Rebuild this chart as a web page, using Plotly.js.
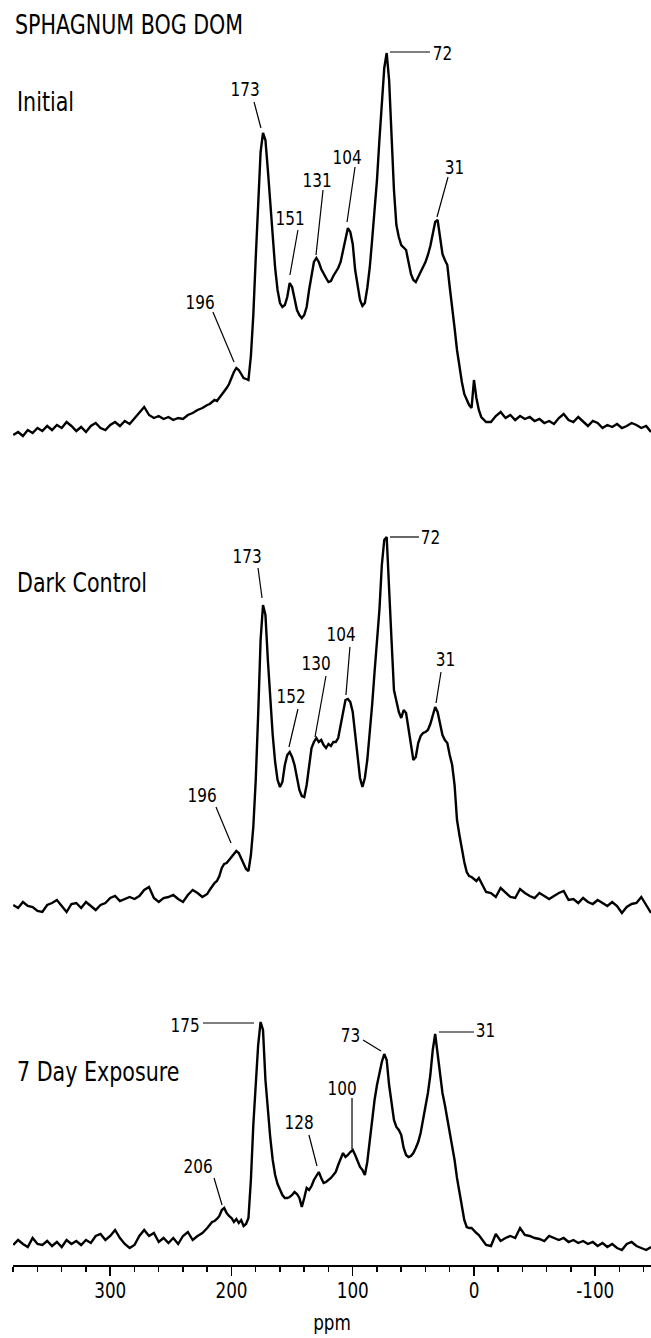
<!DOCTYPE html>
<html>
<head>
<meta charset="utf-8">
<script src="https://cdn.plot.ly/plotly-3.0.1.min.js"></script>
<style>
  html, body { margin: 0; padding: 0; background: #ffffff; }
  #chart { width: 651px; height: 1338px; }
</style>
</head>
<body>
<div id="chart"></div>
<script>
// ---------------- DATA ----------------
const chartTitle = 'SPHAGNUM BOG DOM';
const spectrumNames = ['Initial', 'Dark Control', '7 Day Exposure'];

// chemical shift grid (ppm)
const ppm = [
  380,376,372,368,364,360,356,352,348,344,340,336,332,328,324,320,316,312,308,304,
  300,296,292,288,284,280,276,272,268,264,260,256,252,248,244,240,236,232,228,224,220,
  218,216,214,212,210,208,206,204,202,200,198,196,194,192,190,188,186,184,182,180,
  178,176,174,172,170,168,166,164,162,160,158,156,154,152,150,148,146,144,142,140,
  138,136,134,132,130,128,126,124,122,120,118,116,114,112,110,108,106,104,102,100,
  98,96,94,92,90,88,86,84,82,80,78,76,74,72,70,68,66,64,62,60,
  58,56,54,52,50,48,46,44,42,40,38,36,34,32,30,28,26,24,22,20,
  18,16,14,12,10,8,6,4,2,0,-2,-4,-6,-8,-10,
  -14,-18,-22,-26,-30,-34,-38,-42,-46,-50,-54,-58,-62,-66,-70,-74,-78,-82,-86,-90,
  -94,-98,-102,-106,-110,-114,-118,-122,-126,-130,-134,-138,-142,-146
];

// relative intensity (arbitrary units)
const intInitial = [
  5,8,4,10,7,12,9,14,10,15,12,18,14,9,13,8,14,17,12,10,
  15,18,14,19,16,22,28,33,25,22,24,21,23,20,22,21,25,27,30,32,35,
  36,38,40,39,42,45,48,52,56,62,68,72,70,66,62,61,60,84,125,182,
  240,288,307,300,270,235,200,172,150,137,133,135,143,157,153,143,130,125,122,125,
  133,150,165,178,182,178,171,166,162,158,159,164,168,172,178,190,202,212,208,196,
  170,153,140,134,137,152,172,200,227,260,300,340,372,387,360,305,250,215,203,195,
  192,190,178,166,160,158,163,168,173,178,185,194,206,218,220,202,186,180,175,153,
  135,112,90,72,58,46,40,35,32,60,42,30,23,20,18,
  18,24,28,22,25,20,24,21,23,19,21,17,19,16,22,26,20,18,23,18,
  14,19,17,12,15,13,16,12,14,17,15,12,14,8
];

const intDark = [
  15,12,18,14,13,9,8,15,17,20,14,8,16,17,12,18,14,10,15,17,
  22,24,19,21,23,21,24,30,33,22,18,22,23,25,21,18,25,30,27,23,26,
  30,34,37,39,44,52,56,57,60,62,65,69,67,62,56,51,49,65,93,140,
  205,280,315,305,260,220,185,158,140,133,138,155,165,168,163,155,142,130,124,123,
  135,155,172,178,182,178,180,175,172,176,174,178,178,182,195,210,220,221,218,208,
  185,160,142,133,142,160,185,215,248,280,310,355,380,383,337,280,230,217,208,202,
  210,207,190,172,160,163,177,184,187,188,190,196,205,213,208,197,185,180,177,165,
  155,135,100,85,70,58,48,44,43,41,39,42,37,33,28,
  27,23,32,27,23,22,31,27,24,22,27,24,21,24,27,29,20,21,17,22,
  18,16,20,17,14,18,14,7,13,16,17,23,15,7
];

const intExposed = [
  10,15,11,8,17,11,10,14,9,13,8,15,11,14,10,15,12,19,21,15,
  19,25,17,11,7,10,19,25,19,22,13,17,12,17,11,19,23,15,19,22,27,
  30,33,34,36,39,45,47,42,39,37,33,36,32,35,29,31,37,75,130,170,
  210,233,225,175,145,117,95,80,71,65,60,57,57,58,60,63,61,57,48,57,
  67,65,69,75,79,83,77,72,73,75,77,80,83,90,97,102,98,100,103,105,
  100,93,88,85,80,93,115,137,155,170,183,193,201,195,170,150,135,128,125,120,
  107,100,98,99,102,107,113,122,135,147,162,180,205,221,203,180,162,150,137,123,
  112,95,77,62,47,35,28,27,27,24,22,20,17,13,10,
  9,21,14,17,19,17,27,20,19,17,16,14,19,17,15,17,13,15,12,14,
  11,13,9,12,8,11,7,5,11,13,9,7,5,8
];

// x-axis ticks
const tickValues = [300, 200, 100, 0, -100];
const tickLabels = ['300', '200', '100', '0', '-100'];
const axisLabel = 'ppm';

// peak labels (ppm values written on the chart)
const peaksInitial = ['173', '151', '131', '104', '72', '31', '196'];
const peaksDark    = ['173', '72', '104', '130', '152', '31', '196'];
const peaksExposed = ['175', '31', '73', '100', '128', '206'];

// ---------------- LAYOUT HELPERS (positions / styles) ----------------
const FONT = '"Liberation Sans Narrow", "DejaVu Sans Condensed", "Roboto Condensed", "Arial Narrow", Arial, sans-serif';
const TEXT_SQUEEZE = 0.85;   // horizontal compression to imitate the condensed face

// [text ppm, text intensity, line x0, y0, x1, y1]  (data units of each panel)
const placeInitial = [
  [188.9, 351, 181.4, 338, 175.7, 312],
  [151.8, 222, 145.2, 210, 151.8, 165],
  [129.5, 260, 124.5, 250, 130.3, 185],
  [104.7, 283,  98.1, 273, 104.7, 218],
  [ 25.6, 387,  69.3, 388,  36.3, 388],
  [ 15.7, 273,  21.4, 263,  30.5, 223],
  [226.0, 138, 215.3, 128, 197.9,  78]
];
const placeDark = [
  [187.2, 364, 178.1, 352, 174.8, 322],
  [ 35.5, 383,  69.3, 383,  45.4, 383],
  [109.7, 286, 102.3, 273, 105.6, 225],
  [130.3, 257, 122.1, 244, 131.1, 183],
  [150.9, 224, 145.2, 211, 152.6, 173],
  [ 23.1, 261,  27.2, 248,  31.3, 217],
  [224.3, 125, 212.8, 113, 200.4,  77]
];
const placeExposed = [
  [238.4, 230, 223.5, 232, 181.4, 232],
  [ -9.9, 225,  28.9, 223,   0.0, 223],
  [101.8, 220,  91.5, 215,  76.7, 204],
  [108.9, 167, 100.6, 157, 100.6, 106],
  [144.3, 133, 136.1, 120, 129.5,  89],
  [227.6,  89, 214.4,  77, 207.8,  50]
];

const panels = [
  {name: spectrumNames[0], y: intInitial, axis: 'y',  labels: peaksInitial, place: placeInitial, labelY: 0.9194},
  {name: spectrumNames[1], y: intDark,    axis: 'y2', labels: peaksDark,    place: placeDark,    labelY: 0.5399},
  {name: spectrumNames[2], y: intExposed, axis: 'y3', labels: peaksExposed, place: placeExposed, labelY: 0.1526}
];

const traces = panels.map(p => ({
  type: 'scatter', mode: 'lines', x: ppm, y: p.y, yaxis: p.axis,
  name: p.name, showlegend: false, hoverinfo: 'skip',
  line: {color: '#000000', width: 2.4, shape: 'linear'}
}));

const annotations = [];
const shapes = [];
panels.forEach(p => {
  annotations.push({
    text: p.name, xref: 'paper', yref: 'paper', x: 0.003, y: p.labelY,
    xanchor: 'left', yanchor: 'middle', align: 'left', showarrow: false,
    font: {family: FONT, size: 27, color: '#000'}
  });
  p.labels.forEach((lab, i) => {
    const q = p.place[i];
    annotations.push({
      text: lab, xref: 'x', yref: p.axis, x: q[0], y: q[1],
      xanchor: 'center', yanchor: 'middle', showarrow: false,
      font: {family: FONT, size: 20, color: '#000'}
    });
    shapes.push({
      type: 'line', xref: 'x', yref: p.axis,
      x0: q[2], y0: q[3], x1: q[4], y1: q[5],
      line: {color: '#000', width: 1.2}
    });
  });
});

const layout = {
  width: 651, height: 1338,
  margin: {l: 13, r: 0, t: 0, b: 73, pad: 0},
  paper_bgcolor: '#ffffff', plot_bgcolor: '#ffffff',
  showlegend: false,
  title: {
    text: chartTitle, xref: 'container', yref: 'container',
    x: 15 / 651, xanchor: 'left', y: 1 - 25 / 1338, yanchor: 'middle',
    font: {family: FONT, size: 27, color: '#000'}
  },
  xaxis: {
    range: [380.2, -146], autorange: false,
    tickmode: 'array', tickvals: tickValues, ticktext: tickLabels,
    ticks: 'outside', ticklen: 9, tickwidth: 1.5, tickcolor: '#000',
    ticklabelstandoff: -4,
    showline: true, linewidth: 2, linecolor: '#000',
    showgrid: false, zeroline: false,
    tickfont: {family: FONT, size: 22, color: '#000'},
    title: {text: axisLabel, font: {family: FONT, size: 22, color: '#000'}, standoff: 12},
    minor: {ticks: 'outside', ticklen: 5, tickwidth: 1.5, tickcolor: '#000',
            tickmode: 'linear', tick0: 0, dtick: 20, showgrid: false}
  },
  yaxis:  {range: [-825, 440], visible: false, showgrid: false, zeroline: false},
  yaxis2: {range: [-345, 920], visible: false, showgrid: false, zeroline: false, overlaying: 'y'},
  yaxis3: {range: [-10, 1255], visible: false, showgrid: false, zeroline: false, overlaying: 'y'},
  annotations: annotations,
  shapes: shapes
};

// squeeze every text horizontally around its own anchor (condensed look)
function squeezeText(gd) {
  gd.querySelectorAll('svg text').forEach(t => {
    if (!t.textContent || !t.textContent.trim()) return;
    let bb;
    try { bb = t.getBBox(); } catch (e) { return; }
    if (!bb || !bb.width) return;
    const anchor = t.getAttribute('text-anchor') || 'start';
    let ax = bb.x + bb.width / 2;
    if (anchor === 'start') ax = bb.x;
    else if (anchor === 'end') ax = bb.x + bb.width;
    const prev = t.getAttribute('transform') || '';
    t.setAttribute('transform',
      (prev + ' translate(' + ax + ',0) scale(' + TEXT_SQUEEZE + ',1) translate(' + (-ax) + ',0)').trim());
  });
}

Plotly.newPlot('chart', traces, layout, {displayModeBar: false, staticPlot: true})
  .then(gd => squeezeText(gd));
</script>
</body>
</html>
